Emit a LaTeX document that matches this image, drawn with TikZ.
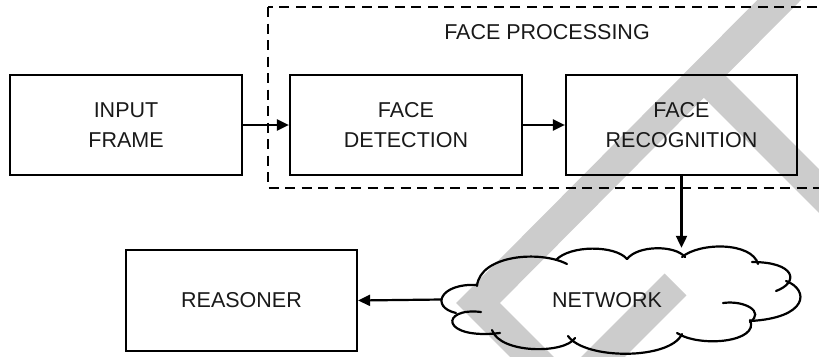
\documentclass[tikz,border=0pt]{standalone}
\usepackage{fontspec}
\setmainfont{Liberation Sans}
\usetikzlibrary{arrows.meta}
\begin{document}
\begin{tikzpicture}[x=1pt,y=-1pt,
  every node/.style={font=\fontsize{21.5}{30}\selectfont, text=black!90},
  blockbox/.style={draw, line width=2.2pt, minimum width=#1, minimum height=100pt, align=center, inner sep=0pt},
  arr/.style={line width=2.2pt, -{Triangle[length=12pt,width=11pt]}},
  groupbox/.style={draw, line width=1.8pt, dash pattern=on 10pt off 6.5pt},
  wmark/.style={line width=31pt, black!20, line cap=butt, line join=miter},
  cloudline/.style={line width=2.2pt, line cap=round},
  area/.style={minimum width=356pt, minimum height=103pt, inner sep=0pt}
]
\useasboundingbox (0,0) rectangle (819,356);
\clip (0,0) rectangle (819,356);
% watermark
\draw[wmark] (799,-20) -- (478,303) -- (551,376);
\draw[wmark] (704.5,76.5) -- (860,232);
\draw[wmark] (675.5,284.5) -- (560,400);
% group box
\draw[groupbox] (268,7) rectangle (840,188);
\node (fplabel) at (547,32) {FACE PROCESSING};
% blocks
\node[blockbox=232pt] (input) at (126,125) {INPUT\\FRAME};
\node[blockbox=232pt] (detect) at (406,125) {FACE\\DETECTION};
\node[blockbox=231pt] (recog) at (681.5,125) {FACE\\RECOGNITION};
\node[blockbox=231pt, minimum height=101pt] (reasoner) at (241.5,300.5) {REASONER};
% network cloud
\node[area] (net) at (620,299.5) {};
\node (netlabel) at (607,300) {NETWORK};
\draw[cloudline] (477,285) .. controls (440,283) and (430,307) .. (456,313);
\draw[cloudline] (481,312) .. controls (440,307) and (440,340) .. (500,333);
\draw[cloudline] (492,330) .. controls (500,354) and (565,354) .. (575,338);
\draw[cloudline] (568,336) .. controls (585,360) and (670,360) .. (682,334);
\draw[cloudline] (677,333) .. controls (700,348) and (760,342) .. (750,320);
\draw[cloudline] (723,303) .. controls (745,300) and (765,312) .. (750,322);
\draw[cloudline] (750,321) .. controls (808,318) and (810,290) .. (786,281);
\draw[cloudline] (776,291) .. controls (800,282) and (795,262) .. (752,262);
\draw[cloudline] (758,264) .. controls (752,242) and (700,242) .. (682,257);
\draw[cloudline] (685,257) .. controls (675,245) and (638,245) .. (627,259);
\draw[cloudline] (627,259) .. controls (615,245) and (570,245) .. (556,260);
\draw[cloudline] (567,264) .. controls (540,250) and (480,255) .. (477,286);
% connectors
\draw[arr] (input) -- (detect);
\draw[arr] (detect) -- (recog);
\draw[arr] (recog.south) -- (recog.south |- net.north);
\draw[arr] (net.west) -- (reasoner.east);
\end{tikzpicture}
\end{document}
